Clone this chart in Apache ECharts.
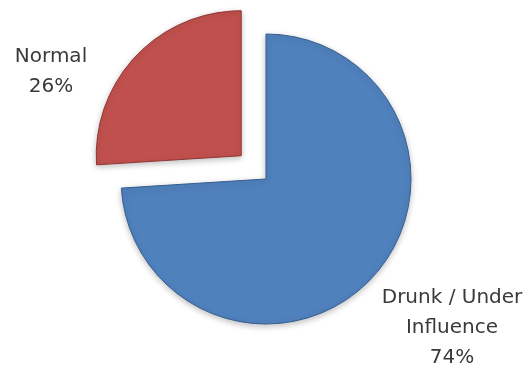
<!DOCTYPE html>
<html>
<head>
<meta charset="utf-8">
<script src="https://cdn.jsdelivr.net/npm/echarts@6/dist/echarts.min.js"></script>
<style>
  html, body { margin: 0; padding: 0; background: #fff; }
  #main { width: 532px; height: 374px; }
</style>
</head>
<body>
<div id="main"></div>
<script>
var categories = ['Drunk / Under\nInfluence', 'Normal'];
var values = [74, 26];
var colors = ['#4F81BD', '#C0504D'];
var exploded = [false, true];

var chartDom = document.getElementById('main');
var myChart = echarts.init(chartDom);

// where the label blocks sit (centre of text block)
var labelSpots = [
    {x: 452, y: 328},
    {x: 51, y: 72}
];

var pieCenter = [266, 179];
var pieRadius = 145;

// slices, Normal one pulled out
var sliceData = categories.map(function(name, i){
    return {
        name: name,
        value: values[i],
        selected: exploded[i],
        itemStyle: {
            color: colors[i],
            borderColor: echarts.color.modifyHSL(colors[i], null, null, 0.38),
            borderWidth: 1
        }
    };
});

// same values again, only used to carry the labels
var labelData = categories.map(function(name, i){
    return { name: name, value: values[i] };
});

var option = {
    animation: false,
    series: [
        {
            type: 'pie',
            center: pieCenter,
            radius: pieRadius,
            startAngle: 90,
            clockwise: true,
            selectedMode: 'single',
            selectedOffset: 34,
            emphasis: { scale: false },
            itemStyle: {
                shadowBlur: 6,
                shadowColor: 'rgba(0,0,0,0.25)',
                shadowOffsetY: 2
            },
            label: { show: false },
            labelLine: { show: false },
            data: sliceData
        },
        {
            type: 'pie',
            center: pieCenter,
            radius: pieRadius,
            startAngle: 90,
            clockwise: true,
            silent: true,
            z: 3,
            itemStyle: { color: 'rgba(0,0,0,0)', borderWidth: 0 },
            label: {
                show: true,
                position: 'outside',
                alignTo: 'none',
                overflow: 'none',
                formatter: '{b}\n{d}%',
                fontFamily: 'DejaVu Sans',
                fontSize: 20,
                lineHeight: 30,
                color: '#3a3a3a',
                align: 'center'
            },
            labelLine: { show: false },
            labelLayout: function(params){
                var p = labelSpots[params.dataIndex];
                return {
                    x: p.x,
                    y: p.y,
                    align: 'center',
                    verticalAlign: 'middle'
                };
            },
            data: labelData
        }
    ]
};

myChart.setOption(option);
</script>
</body>
</html>
